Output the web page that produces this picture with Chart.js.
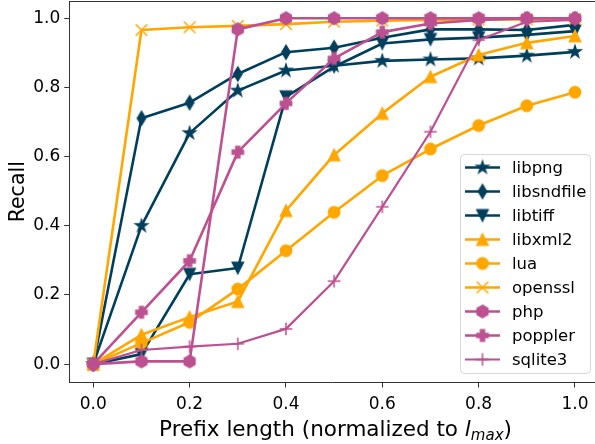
<!DOCTYPE html>
<html>
<head>
<meta charset="utf-8">
<script src="https://cdn.jsdelivr.net/npm/chart.js@4"></script>
<style>
  html, body { margin: 0; padding: 0; background: #fff; overflow: hidden; }
  canvas { display: block; }
</style>
</head>
<body>
<canvas id="recallChart" width="595" height="444"></canvas>
<script>
// prefix lengths (normalized) and recall per target
const prefix = [0.0, 0.1, 0.2, 0.3, 0.4, 0.5, 0.6, 0.7, 0.8, 0.9, 1.0];

const libpng     = [0.0, 0.40, 0.668, 0.791, 0.849, 0.863, 0.877, 0.881, 0.884, 0.892, 0.903];
const libsndfile = [0.0, 0.711, 0.756, 0.839, 0.902, 0.915, 0.944, 0.968, 0.968, 0.966, 0.981];
const libtiff    = [0.0, 0.029, 0.26, 0.278, 0.773, 0.86, 0.927, 0.939, 0.944, 0.952, 0.963];
const libxml2    = [0.0, 0.085, 0.136, 0.181, 0.444, 0.605, 0.725, 0.831, 0.894, 0.929, 0.949];
const lua        = [0.0, 0.061, 0.121, 0.217, 0.328, 0.439, 0.545, 0.622, 0.690, 0.747, 0.786];
const openssl    = [0.0, 0.966, 0.974, 0.978, 0.983, 0.99, 0.993, 0.995, 0.996, 0.997, 0.998];
const php        = [0.0, 0.008, 0.008, 0.968, 1.0, 1.0, 1.0, 1.0, 1.0, 1.0, 1.0];
const poppler    = [0.0, 0.150, 0.299, 0.613, 0.754, 0.884, 0.96, 0.985, 0.995, 1.0, 1.0];
const sqlite3    = [0.0, 0.041, 0.051, 0.059, 0.102, 0.24, 0.455, 0.672, 0.937, 0.99, 0.995];

const seriesNames = ["libpng", "libsndfile", "libtiff", "libxml2", "lua", "openssl", "php", "poppler", "sqlite3"];
const xTicks = [0.0, 0.2, 0.4, 0.6, 0.8, 1.0];
const yTicks = [0.0, 0.2, 0.4, 0.6, 0.8, 1.0];

const NAVY = "#003f5c", ORANGE = "#ffa600", PINK = "#bc5090";
const FONT = "'DejaVu Sans', sans-serif";

// little canvases used as point styles (matplotlib-like markers)
function marker(kind, color) {
  const c = document.createElement("canvas");
  c.width = 20; c.height = 20;
  const g = c.getContext("2d");
  g.translate(10, 10);
  g.fillStyle = color; g.strokeStyle = color;
  g.lineWidth = 1.2;
  g.lineJoin = "miter";
  g.beginPath();
  if (kind === "star") {
    const R = 6.6, r = R * 0.382;
    for (let i = 0; i < 10; i++) {
      const a = -Math.PI / 2 + i * Math.PI / 5;
      const rr = i % 2 ? r : R;
      g.lineTo(rr * Math.cos(a), rr * Math.sin(a));
    }
    g.closePath(); g.fill(); g.stroke();
  } else if (kind === "thin_diamond") {
    g.moveTo(0, -7.2); g.lineTo(4.3, 0); g.lineTo(0, 7.2); g.lineTo(-4.3, 0);
    g.closePath(); g.fill(); g.stroke();
  } else if (kind === "tri_down") {
    g.moveTo(-5.8, -5.8); g.lineTo(5.8, -5.8); g.lineTo(0, 5.8);
    g.closePath(); g.fill(); g.stroke();
  } else if (kind === "tri_up") {
    g.moveTo(-5.8, 5.8); g.lineTo(5.8, 5.8); g.lineTo(0, -5.8);
    g.closePath(); g.fill(); g.stroke();
  } else if (kind === "circle") {
    g.arc(0, 0, 5.8, 0, Math.PI * 2);
    g.fill(); g.stroke();
  } else if (kind === "x") {
    g.lineWidth = 1.5;
    g.moveTo(-5.8, -5.8); g.lineTo(5.8, 5.8); g.moveTo(5.8, -5.8); g.lineTo(-5.8, 5.8);
    g.stroke();
  } else if (kind === "hexagon") {
    for (let i = 0; i < 6; i++) {
      const a = -Math.PI / 2 + i * Math.PI / 3;
      g.lineTo(6.4 * Math.cos(a), 6.4 * Math.sin(a));
    }
    g.closePath(); g.fill(); g.stroke();
  } else if (kind === "plus_filled") {
    const a = 5.8, b = 2.1;
    g.moveTo(-b, -a); g.lineTo(b, -a); g.lineTo(b, -b); g.lineTo(a, -b); g.lineTo(a, b);
    g.lineTo(b, b); g.lineTo(b, a); g.lineTo(-b, a); g.lineTo(-b, b); g.lineTo(-a, b);
    g.lineTo(-a, -b); g.lineTo(-b, -b);
    g.closePath(); g.fill(); g.stroke();
  } else if (kind === "plus") {
    g.lineWidth = 1.5;
    g.moveTo(-6.3, 0); g.lineTo(6.3, 0); g.moveTo(0, -6.3); g.lineTo(0, 6.3);
    g.stroke();
  }
  return c;
}

const seriesValues = [libpng, libsndfile, libtiff, libxml2, lua, openssl, php, poppler, sqlite3];
const seriesColors = [NAVY, NAVY, NAVY, ORANGE, ORANGE, ORANGE, PINK, PINK, PINK];
const seriesMarkers = ["star", "thin_diamond", "tri_down", "tri_up", "circle", "x", "hexagon", "plus_filled", "plus"];

const datasets = seriesNames.map((name, i) => ({
  label: name,
  data: prefix.map((x, j) => ({ x: x, y: seriesValues[i][j] })),
  borderColor: seriesColors[i],
  backgroundColor: seriesColors[i],
  borderWidth: i === 8 ? 2.2 : 2.6,
  borderJoinStyle: "round",
  pointStyle: marker(seriesMarkers[i], seriesColors[i]),
  pointRadius: 7,
  tension: 0,
  clip: false,
  order: seriesNames.length - i   // later series on top, like matplotlib
}));

// legend, top spine and axis titles drawn by hand
const extras = {
  id: "extras",
  afterDraw(chart) {
    const ctx = chart.ctx;
    const area = chart.chartArea;
    ctx.save();
    // top spine
    ctx.strokeStyle = "#333";
    ctx.lineWidth = 1;
    ctx.beginPath();
    ctx.moveTo(area.left, area.top + 0.5);
    ctx.lineTo(area.right, area.top + 0.5);
    ctx.stroke();

    // legend box
    const bx = 460.5, by = 154.5, bw = 130, bh = 219, rad = 4;
    ctx.beginPath();
    ctx.roundRect(bx, by, bw, bh, rad);
    ctx.fillStyle = "rgba(255,255,255,0.8)";
    ctx.fill();
    ctx.strokeStyle = "#d6d6d6";
    ctx.lineWidth = 1;
    ctx.stroke();

    ctx.font = "16.5px " + FONT;
    ctx.textBaseline = "middle";
    ctx.textAlign = "left";
    chart.data.datasets.forEach((ds, i) => {
      const cy = 167.5 + i * 24;
      ctx.strokeStyle = ds.borderColor;
      ctx.lineWidth = ds.borderWidth;
      ctx.beginPath();
      ctx.moveTo(465, cy);
      ctx.lineTo(500, cy);
      ctx.stroke();
      ctx.drawImage(ds.pointStyle, 482.5 - 10, cy - 10);
      ctx.fillStyle = "#000";
      ctx.fillText(ds.label, 512, cy + 1);
    });

    // y title
    ctx.fillStyle = "#000";
    ctx.font = "20.5px " + FONT;
    ctx.save();
    ctx.translate(24, (area.top + area.bottom) / 2);
    ctx.rotate(-Math.PI / 2);
    ctx.textAlign = "center";
    ctx.textBaseline = "alphabetic";
    ctx.fillText("Recall", 0, 0);
    ctx.restore();

    // x title with italic l and subscript max
    const parts = [
      { t: "Prefix length (normalized to ", f: "21.5px " + FONT, dy: 0 },
      { t: "l", f: "italic 21.5px " + FONT, dy: 0 },
      { t: "max", f: "italic 15px " + FONT, dy: 3.5 },
      { t: ")", f: "21.5px " + FONT, dy: 0 }
    ];
    let total = 0;
    parts.forEach(p => { ctx.font = p.f; p.w = ctx.measureText(p.t).width; total += p.w; });
    let x = 335.5 - total / 2;
    ctx.textAlign = "left";
    ctx.textBaseline = "alphabetic";
    parts.forEach(p => { ctx.font = p.f; ctx.fillText(p.t, x, 436 + p.dy); x += p.w; });
    ctx.restore();
  }
};

const axisStyle = {
  grid: { drawOnChartArea: false, drawTicks: true, tickLength: 5, color: "#333", lineWidth: 1 },
  border: { display: true, color: "#333", width: 1 },
  ticks: { color: "#000", font: { family: FONT, size: 17 } }
};

function noPad(s) {
  s.paddingTop = 0; s.paddingBottom = 0; s.paddingLeft = 0; s.paddingRight = 0;
}

new Chart(document.getElementById("recallChart"), {
  type: "line",
  data: { datasets: datasets },
  options: {
    responsive: false,
    animation: false,
    devicePixelRatio: 1,
    layout: { autoPadding: false, padding: { top: 1, right: 0, left: 0, bottom: 0 } },
    plugins: { legend: { display: false }, tooltip: { enabled: false } },
    scales: {
      x: {
        type: "linear",
        min: -0.05,
        max: 1.0416,
        grid: axisStyle.grid,
        border: axisStyle.border,
        ticks: Object.assign({}, axisStyle.ticks, { padding: 7, callback: v => v.toFixed(1) }),
        afterBuildTicks: s => { s.ticks = xTicks.map(v => ({ value: v })); },
        afterFit: s => { s.height = 61.5; noPad(s); }
      },
      y: {
        type: "linear",
        min: -0.053,
        max: 1.05,
        grid: axisStyle.grid,
        border: axisStyle.border,
        ticks: Object.assign({}, axisStyle.ticks, { padding: 4, callback: v => v.toFixed(1) }),
        afterBuildTicks: s => { s.ticks = yTicks.map(v => ({ value: v })); },
        afterFit: s => { s.width = 69.2; noPad(s); }
      }
    }
  },
  plugins: [extras]
});
</script>
</body>
</html>
